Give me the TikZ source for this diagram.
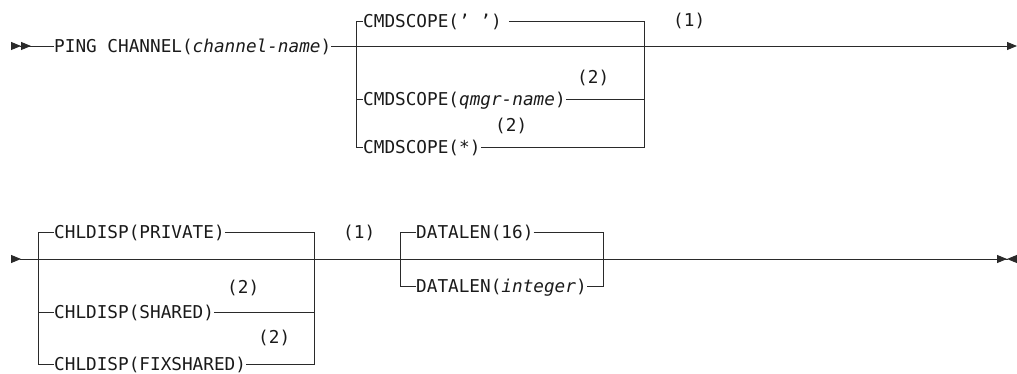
\documentclass[tikz,border=0pt]{standalone}
\usepackage{fontspec}
\setmonofont{DejaVu Sans Mono}
\usetikzlibrary{arrows.meta, positioning, calc}
\usepackage{xcolor}
\definecolor{railgray}{HTML}{2A2A2A}
\definecolor{railtext}{HTML}{1A1A1A}
\tikzset{
  kw/.style        = {font=\ttfamily\fontsize{17.7}{20}\selectfont, inner sep=0pt,
                      anchor=base west, text=railtext},
  fnote/.style     = {kw},
  rail/.style      = {draw=railgray, line width=0.9pt},
  railstart2/.style = {rail, {Triangle[reversed, length=10pt, width=8pt] Triangle[reversed, length=10pt, width=8pt]}-},
  railend/.style   = {rail, -{Triangle[length=10pt, width=8pt]}},
  railcont/.style  = {rail, {Triangle[reversed, length=10pt, width=8pt]}-{Triangle[length=10pt, width=8pt] Triangle[reversed, length=10pt, width=8pt]}}
}

\begin{document}
\begin{tikzpicture}[x=1pt, y=-1pt]
\useasboundingbox (0,0) rectangle (1017,374);
% first line
\coordinate (start1) at (11,46);
\coordinate (end1) at (1017,46);
\node[kw] (ping) at (54,52.5) {PING CHANNEL(\textit{channel-name})};
\draw[railstart2] (start1) -- (ping.west |- start1);
\draw[railend] (ping.east |- end1) -- (end1);
% CMDSCOPE choices
\coordinate (scopeTL) at (356,21);  \coordinate (scopeTR) at (644,21);
\coordinate (scopeML) at (356,99);  \coordinate (scopeMR) at (644,99);
\coordinate (scopeBL) at (356,147); \coordinate (scopeBR) at (644,147);
\node[kw] (cmdblank) at (363,27.5) {CMDSCOPE(’ ’)};
\node[kw] (cmdqmgr) at (363,105.5) {CMDSCOPE(\textit{qmgr-name})};
\node[kw] (cmdstar) at (363,153.5) {CMDSCOPE(*)};
\node[fnote] (n1a) at (673,26.5) {(1)};
\node[fnote] (n2a) at (577,83.5) {(2)};
\node[fnote] (n2b) at (495,131.5) {(2)};
\draw[rail] (cmdblank.west |- scopeTL) -- (scopeTL) -- (scopeBL) -- (cmdstar.west |- scopeBL);
\draw[rail] ([xshift=7pt]cmdblank.east |- scopeTR) -- (scopeTR) -- (scopeBR) -- (cmdstar.east |- scopeBR);
\draw[rail] (scopeML) -- (cmdqmgr.west |- scopeML);
\draw[rail] (cmdqmgr.east |- scopeMR) -- (scopeMR);
% second line
\coordinate (start2) at (11,259);
\coordinate (end2) at (1017,259);
\draw[railcont] (start2) -- (end2);
% CHLDISP choices
\coordinate (dispTL) at (38,232);  \coordinate (dispTR) at (314,232);
\coordinate (dispML) at (38,312);  \coordinate (dispMR) at (314,312);
\coordinate (dispBL) at (38,364);  \coordinate (dispBR) at (314,364);
\node[kw] (private) at (54,238.5) {CHLDISP(PRIVATE)};
\node[kw] (shared) at (54,318.5) {CHLDISP(SHARED)};
\node[kw] (fixshared) at (54,370.2) {CHLDISP(FIXSHARED)};
\node[fnote] (n1b) at (343,238.5) {(1)};
\node[fnote] (n2c) at (227,293.5) {(2)};
\node[fnote] (n2d) at (258,343.5) {(2)};
\draw[rail] (private.west |- dispTL) -- (dispTL) -- (dispBL) -- (fixshared.west |- dispBL);
\draw[rail] (private.east |- dispTR) -- (dispTR) -- (dispBR) -- (fixshared.east |- dispBR);
\draw[rail] (dispML) -- (shared.west |- dispML);
\draw[rail] (shared.east |- dispMR) -- (dispMR);
% DATALEN choices
\coordinate (lenTL) at (400,232); \coordinate (lenTR) at (603,232);
\coordinate (lenBL) at (400,286); \coordinate (lenBR) at (603,286);
\node[kw] (len16) at (416,238.5) {DATALEN(16)};
\node[kw] (lenint) at (416,292.5) {DATALEN(\textit{integer})};
\draw[rail] (len16.west |- lenTL) -- (lenTL) -- (lenBL) -- (lenint.west |- lenBL);
\draw[rail] (len16.east |- lenTR) -- (lenTR) -- (lenBR) -- (lenint.east |- lenBR);
\end{tikzpicture}
\end{document}
